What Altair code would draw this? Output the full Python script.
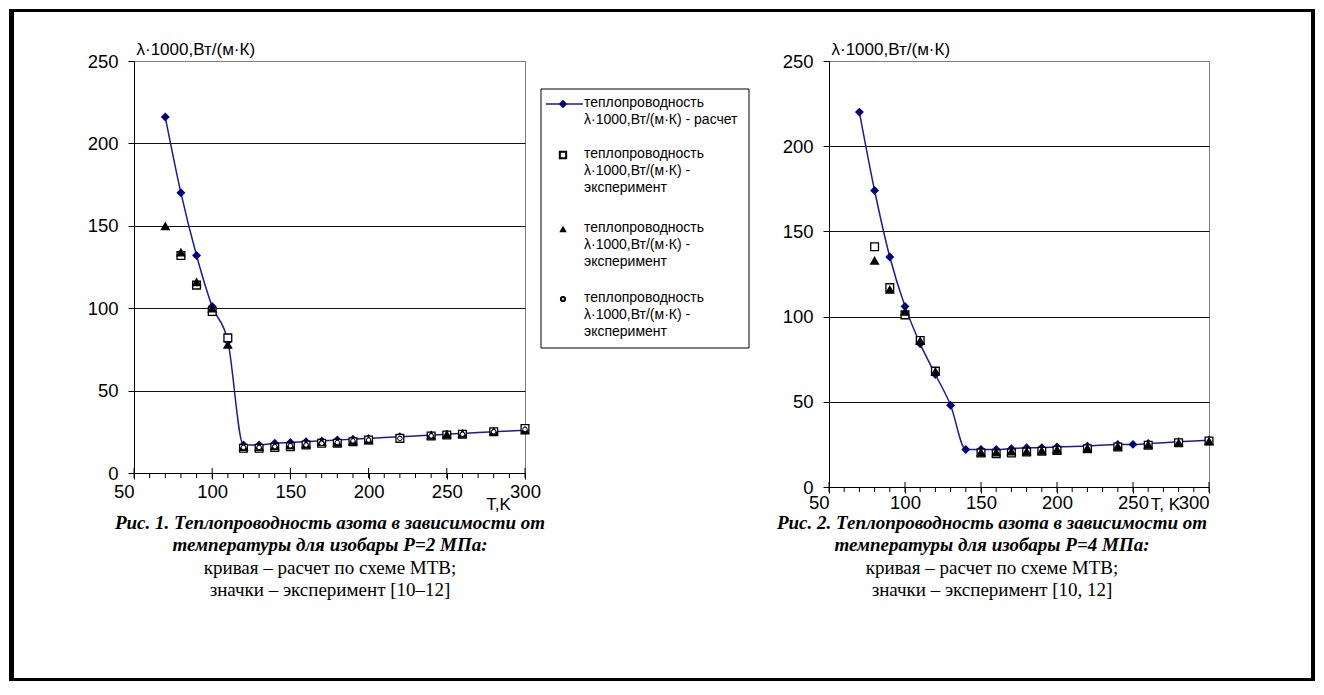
import altair as alt
import pandas as pd

# ---------------- data ----------------
# Fig. 1, P = 2 MPa
T1_calc = [70, 80, 90, 100, 110, 120, 130, 140, 150, 160, 170, 180, 190, 200, 220, 240, 250, 260, 280, 300]
L1_calc = [216, 170, 132, 101, 80, 17, 17, 18, 18.5, 19, 19.5, 20, 20.5, 21, 22, 23, 23.5, 24, 25, 26]
T1_sq = [80, 90, 100, 110, 120, 130, 140, 150, 160, 170, 180, 190, 200, 220, 240, 250, 260, 280, 300]
L1_sq = [132, 114, 98, 82, 15, 15, 15.5, 16, 17, 18, 18, 19, 20, 21, 22.5, 23, 23.5, 25, 27]
T1_tri = [70, 80, 90, 100, 110, 120, 130, 140, 150, 160, 170, 180, 190, 200, 240, 250, 260, 280, 300]
L1_tri = [150, 134, 116, 100, 78, 16, 16, 16.5, 17, 17.5, 19, 18.5, 19.5, 20, 23, 23.5, 24, 25.5, 26]
T1_cir = [120, 130, 140, 150, 160, 170, 180, 190, 200, 220, 240, 260, 280, 300]
L1_cir = [15.5, 15.5, 16, 16.5, 17, 18, 18.5, 19.5, 20, 21, 22.5, 23.5, 25, 26.5]

# Fig. 2, P = 4 MPa
T2_calc = [70, 80, 90, 100, 110, 120, 130, 140, 150, 160, 170, 180, 190, 200, 220, 240, 250, 260, 280, 300]
L2_calc = [220, 174, 135, 106, 84, 66, 48, 22, 22, 22, 22.5, 23, 23, 23.5, 24, 25, 25, 25.5, 26.5, 27.5]
T2_sq = [80, 90, 100, 110, 120, 150, 160, 170, 180, 190, 200, 220, 240, 260, 280, 300]
L2_sq = [141, 117, 101, 86, 68, 20, 19.5, 20, 20.5, 21, 21.5, 22.5, 23.5, 24.5, 26, 27]
T2_tri = [80, 90, 100, 110, 120, 150, 160, 170, 180, 190, 200, 220, 240, 260, 280, 300]
L2_tri = [133, 116, 103, 86, 68, 20.5, 20.5, 21, 21, 21.5, 22, 23, 24, 25, 26, 27]

X_MAJOR = [50, 100, 150, 200, 250, 300]
X_MINOR = [50, 60, 70, 80, 90, 100, 110, 120, 130, 140, 150, 160, 170, 180, 190, 200,
           210, 220, 230, 240, 250, 260, 270, 280, 290, 300]
Y_TICKS = [0, 50, 100, 150, 200, 250]

Y_TITLE = "λ·1000,Вт/(м·К)"
LEG_CALC = ["теплопроводность", "λ·1000,Вт/(м·К) - расчет"]
LEG_EXP = ["теплопроводность", "λ·1000,Вт/(м·К)  -", "эксперимент"]

CAP1 = ["Рис. 1. Теплопроводность азота в зависимости от",
        "температуры для изобары P=2 МПа:",
        "кривая – расчет по схеме МТВ;",
        "значки – эксперимент [10–12]"]
CAP2 = ["Рис. 2. Теплопроводность азота в зависимости от",
        "температуры для изобары P=4 МПа:",
        "кривая – расчет по схеме МТВ;",
        "значки – эксперимент [10, 12]"]

SANS = "Liberation Sans"
SERIF = "Liberation Serif"
NAVY = "#000080"
LINE_BLUE = "#1c1c96"

ONE = alt.Data(values=[{}])


def df(T, L):
    return pd.DataFrame({"T": T, "L": L})


def panel(w, h, calc, sq, tri, cir, xtitle, xt_x, xt_y, lab_pad, right_test, caption, cap_x, extra=None):
    xenc = alt.X("T:Q", scale=alt.Scale(domain=[50, 300], nice=False, zero=False),
                 axis=alt.Axis(values=X_MAJOR, title=xtitle, titleX=xt_x, titleY=xt_y,
                               titleFont=SANS, titleFontSize=17, titleFontWeight="normal",
                               titleAlign="center", titleBaseline="middle",
                               labelFont=SANS, labelFontSize=18.5, labelColor="black",
                               labelAlign={"condition": {"test": right_test, "value": "right"},
                                           "value": "center"},
                               labelFlush=False, labelOverlap=False, labelPadding=lab_pad,
                               tickSize=6, tickColor="black", domainColor="black",
                               grid=False, format="d"))
    yenc = alt.Y("L:Q", scale=alt.Scale(domain=[0, 250], nice=False),
                 axis=alt.Axis(values=Y_TICKS, title=Y_TITLE, titleAngle=0, titleAlign="left",
                               titleBaseline="alphabetic", titleX=2, titleY=-7,
                               titleFont=SANS, titleFontSize=17, titleFontWeight="normal",
                               labelFont=SANS, labelFontSize=18.5, labelColor="black",
                               labelPadding=10, tickSize=6, tickColor="black",
                               domainColor="black", grid=True,
                               gridColor=alt.condition(alt.datum.value == 250,
                                                       alt.value("#808080"), alt.value("#111111")),
                               format="d"))
    layers = []
    layers.append(alt.Chart(pd.DataFrame({"T": X_MINOR})).mark_rule(color="black").encode(
        x=alt.X("T:Q"), y=alt.value(h), y2=alt.value(h + 5)))
    layers.append(alt.Chart(pd.DataFrame({"T": X_MAJOR})).mark_rule(color="black").encode(
        x=alt.X("T:Q"), y=alt.value(h - 5), y2=alt.value(h)))
    layers.append(alt.Chart(df(*calc)).mark_line(color=LINE_BLUE, strokeWidth=1.5,
                                                 interpolate="monotone").encode(x=xenc, y=yenc))
    layers.append(alt.Chart(df(*calc)).mark_point(shape="diamond", filled=True, color=NAVY,
                                                  size=80, opacity=1).encode(x="T:Q", y="L:Q"))
    layers.append(alt.Chart(df(*sq)).mark_point(shape="square", fill="white", stroke="black",
                                                strokeWidth=1.3, size=60, opacity=1).encode(x="T:Q", y="L:Q"))
    layers.append(alt.Chart(df(*tri)).mark_point(shape="triangle-up", filled=True, color="black",
                                                 size=100, opacity=1).encode(x="T:Q", y="L:Q"))
    if cir is not None:
        layers.append(alt.Chart(df(*cir)).mark_point(shape="circle", fill="white", stroke="black",
                                                     strokeWidth=1, size=20, opacity=1).encode(x="T:Q", y="L:Q"))
    # caption
    for i, line in enumerate(caption):
        bold = i < 2
        layers.append(alt.Chart(ONE).mark_text(
            font=SERIF, fontSize=19, fontStyle="italic" if bold else "normal",
            fontWeight="bold" if bold else "normal", align="center", baseline="middle",
            color="black").encode(x=alt.value(cap_x), y=alt.value(462 + i * 22.4),
                                  text=alt.value(line)))
    if extra:
        layers.extend(extra)
    return alt.layer(*layers).properties(width=w, height=h)


# ---------- legend + frame (drawn in the left panel's coordinates) ----------
LX0, LX1, LY0, LY1 = 407, 615, 28, 287
SYM_X = 429
TXT_X = 450
extra = []
# outer frame
for (a, b, c, d) in [(-125, -120, -52, 620), (-125, 1181, -52, -49),
                     (1177, 1181, -52, 620), (-125, 1181, 617, 620)]:
    extra.append(alt.Chart(ONE).mark_rect(color="black").encode(
        x=alt.value(a), x2=alt.value(b), y=alt.value(c), y2=alt.value(d)))
extra.append(alt.Chart(ONE).mark_rect(fill="white", stroke="black", strokeWidth=1).encode(
    x=alt.value(LX0), x2=alt.value(LX1), y=alt.value(LY0), y2=alt.value(LY1)))
ROWS = [43, 94, 168, 238]
extra.append(alt.Chart(ONE).mark_rule(color=LINE_BLUE, strokeWidth=1.5).encode(
    x=alt.value(412), x2=alt.value(449), y=alt.value(ROWS[0])))
extra.append(alt.Chart(ONE).mark_point(shape="diamond", filled=True, color=NAVY, size=70, opacity=1).encode(
    x=alt.value(SYM_X), y=alt.value(ROWS[0])))
extra.append(alt.Chart(ONE).mark_point(shape="square", fill="white", stroke="black", size=40, opacity=1).encode(
    x=alt.value(SYM_X), y=alt.value(ROWS[1])))
extra.append(alt.Chart(ONE).mark_point(shape="triangle-up", filled=True, color="black", size=55, opacity=1).encode(
    x=alt.value(SYM_X), y=alt.value(ROWS[2])))
extra.append(alt.Chart(ONE).mark_point(shape="circle", fill="white", stroke="black", size=18, opacity=1).encode(
    x=alt.value(SYM_X), y=alt.value(ROWS[3])))
for r, txt in zip(ROWS, [LEG_CALC, LEG_EXP, LEG_EXP, LEG_EXP]):
    extra.append(alt.Chart(ONE).mark_text(font=SANS, fontSize=14, align="left", baseline="top",
                                          lineHeight=17, color="black").encode(
        x=alt.value(TXT_X), y=alt.value(r - 8), text=alt.value(txt)))

left = panel(391, 412, (T1_calc, L1_calc), (T1_sq, L1_sq), (T1_tri, L1_tri), (T1_cir, L1_cir),
             "T,K", 364, 31, 3, "datum.value == 50", CAP1, 196, extra)
right = panel(380, 426, (T2_calc, L2_calc), (T2_sq, L2_sq), (T2_tri, L2_tri), None,
              "T, K", 336, 17, 0, "datum.value == 50 || datum.value == 300", CAP2, 163)

chart = alt.hconcat(left, right, spacing=304, bounds="flush").properties(
    padding=0, background="white"
).configure_view(stroke="#808080", strokeWidth=1)

chart.save("out.html", embed_options={"renderer": "svg", "actions": False})
